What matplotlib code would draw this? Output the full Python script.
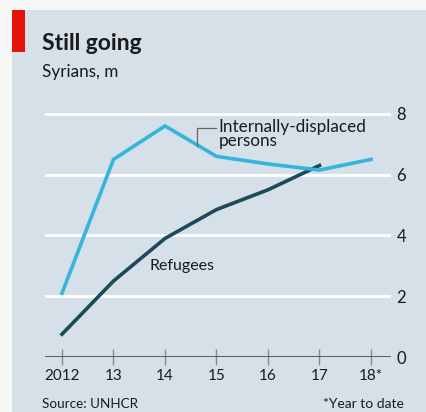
import matplotlib
matplotlib.use("Agg")
import matplotlib.pyplot as plt
from matplotlib.patches import Rectangle

# data (Syrians, millions)
YEARS = [2012, 2013, 2014, 2015, 2016, 2017, 2018]
IDP = [2.1, 6.5, 7.6, 6.6, 6.35, 6.15, 6.5]
REF_YEARS = [2012, 2013, 2014, 2015, 2016, 2017]
REFUGEES = [0.75, 2.5, 3.9, 4.85, 5.5, 6.3]
XLABELS = ["2012", "13", "14", "15", "16", "17", "18*"]
YTICKS = [0, 2, 4, 6, 8]

BG = "#d5e0e9"
C_IDP = "#35b4dc"
C_REF = "#1c4a5a"
FONT = "Lato"

plt.rcParams.update({"font.family": FONT})

W, H = 426, 412
fig = plt.figure(figsize=(W / 100, H / 100), dpi=100)
fig.patch.set_facecolor("#f6f7f4")
# chart panel background
fig.patches.append(Rectangle((12 / W, 0), 1 - 12 / W, 1 - 10 / H, transform=fig.transFigure,
                             facecolor=BG, edgecolor="none", zorder=-2))
# red tag
fig.patches.append(Rectangle((12 / W, 1 - 52 / H), 13 / W, 42 / H, transform=fig.transFigure,
                             facecolor="#e3120b", edgecolor="none", zorder=-1))

fig.text(42 / W, 1 - 43 / H, "Still going", fontsize=16.5, fontweight="bold",
         color="#1a1a1a", va="center", ha="left")
fig.text(42 / W, 1 - 72 / H, "Syrians, m", fontsize=12.3, color="#1a1a1a",
         va="center", ha="left")
fig.text(42 / W, 1 - 404 / H, "Source: UNHCR", fontsize=9.7, color="#1a1a1a",
         va="center", ha="left")
fig.text(404 / W, 1 - 404 / H, "*Year to date", fontsize=10, color="#1a1a1a",
         va="center", ha="right")

ax = fig.add_axes([45 / W, (H - 357) / H, 346 / W, 254 / H])
ax.set_zorder(5)
ax.set_facecolor("none")
ax.set_xlim(2012 - 17 / 51.5, 2018 + 20 / 51.5)
ax.set_ylim(0, 254 / 30.4)
for s in ax.spines.values():
    s.set_visible(False)

for v in YTICKS[1:]:
    ax.axhline(v, color="white", lw=2, zorder=1)
ax.axhline(0, color="#5a5a5a", lw=1.4, zorder=2)

ax.plot(YEARS, IDP, color=C_IDP, lw=2.6, zorder=4, solid_joinstyle="miter")
ax.plot(REF_YEARS, REFUGEES, color=C_REF, lw=2.6, zorder=3, solid_joinstyle="miter")

ax.yaxis.tick_right()
ax.set_yticks(YTICKS)
ax.set_yticklabels([str(v) for v in YTICKS])
ax.tick_params(axis="y", length=0, pad=4, labelsize=12, labelcolor="#1a1a1a")
ax.set_xticks(YEARS)
ax.set_xticklabels(XLABELS)
ax.tick_params(axis="x", direction="inout", length=11, width=1, color="#8a8a8a",
               pad=3, labelsize=11, labelcolor="#1a1a1a")

# labels
ax.plot([2014.62, 2014.62, 2015.0], [6.95, 7.53, 7.53], color="#666666", lw=0.9, zorder=5)
ax.text(2015.04, 7.84, "Internally-displaced\npersons", fontsize=12.3, color="#1a1a1a",
        va="top", ha="left", linespacing=0.85, transform=ax.transData)
ax.text(2013.7, 3.0, "Refugees", fontsize=11.5, color="#1a1a1a", va="center", ha="left")

fig.savefig("out.png", dpi=100, facecolor=fig.get_facecolor())
